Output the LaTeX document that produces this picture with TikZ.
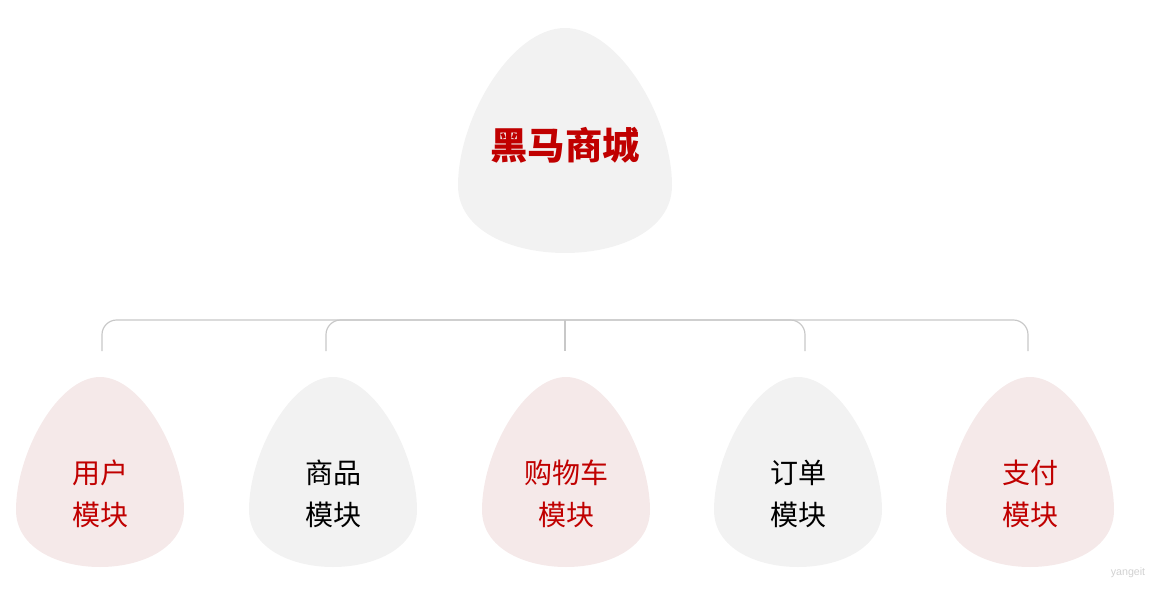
\documentclass[tikz,border=0pt]{standalone}
\usepackage{fontspec}
\newfontfamily\cjk{Noto Sans CJK SC}
\newfontfamily\wmfont{Liberation Sans}
\definecolor{dropgrey}{HTML}{F2F2F2}
\definecolor{droppink}{HTML}{F5E9E9}
\definecolor{txtred}{HTML}{C00000}
\definecolor{linegrey}{HTML}{C8C8C8}
\tikzset{
  drop/.pic={
    \fill[pic actions] (0,0) .. controls (0.25,0) and (0.5,0.4) .. (0.5,0.7)
      .. controls (0.5,0.9) and (0.25,1) .. (0,1)
      .. controls (-0.25,1) and (-0.5,0.9) .. (-0.5,0.7)
      .. controls (-0.5,0.4) and (-0.25,0) .. (0,0) -- cycle;
  },
  toptext/.style={font=\cjk\bfseries\fontsize{28pt}{32pt}\selectfont, text=txtred, inner sep=0pt},
  modtext/.style={font=\cjk\fontsize{21pt}{31.5pt}\selectfont, align=center, inner sep=0pt},
  conn/.style={draw=linegrey, line width=0.9pt, rounded corners=11pt},
}
\begin{document}
\begin{tikzpicture}[x=0.75pt,y=-0.75pt]
\useasboundingbox (0,0) rectangle (1161,589);
% top drop
\pic[fill=dropgrey, xscale=214, yscale=225] at (565,28) {drop};
\node[toptext] (root) at (565,145) {黑马商城};
% bottom drops
\pic[fill=droppink, xscale=168, yscale=190] at (100,377) {drop};
\pic[fill=dropgrey, xscale=168, yscale=190] at (333,377) {drop};
\pic[fill=droppink, xscale=168, yscale=190] at (566,377) {drop};
\pic[fill=dropgrey, xscale=168, yscale=190] at (798,377) {drop};
\pic[fill=droppink, xscale=168, yscale=190] at (1030,377) {drop};
\node[modtext, text=txtred] (m1) at (100,494) {用户\\模块};
\node[modtext, text=black] (m2) at (333,494) {商品\\模块};
\node[modtext, text=txtred] (m3) at (566,494) {购物车\\模块};
\node[modtext, text=black] (m4) at (798,494) {订单\\模块};
\node[modtext, text=txtred] (m5) at (1030,494) {支付\\模块};
% connectors
\coordinate (j) at (565,320);
\coordinate (c1) at (102,351);
\coordinate (c2) at (326,351);
\coordinate (c3) at (565,351);
\coordinate (c4) at (805,351);
\coordinate (c5) at (1028,351);
\draw[conn] (c1) |- (j) -| (c5);
\draw[conn] (c2) |- (j) -| (c4);
\draw[conn] (j) -- (c3);
% watermark
\node[font=\wmfont\fontsize{8pt}{9pt}\selectfont, text=black!18, inner sep=0pt] (wm) at (1128,573) {yangeit};
\end{tikzpicture}
\end{document}
